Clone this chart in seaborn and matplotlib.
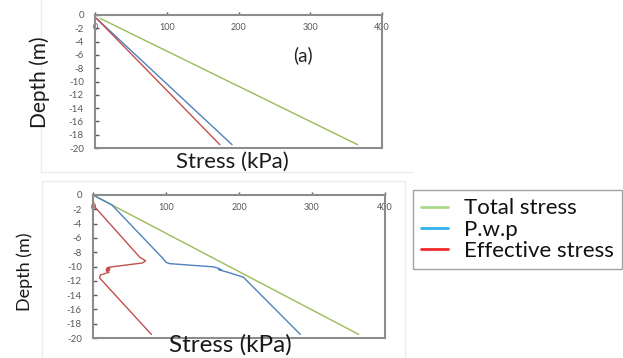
import matplotlib
matplotlib.use("Agg")
import matplotlib.pyplot as plt
import seaborn as sns
import pandas as pd
from matplotlib.lines import Line2D
from matplotlib.patches import Rectangle

# ---------------- data ----------------
# panel (a)
a_total_x = [7, 366]
a_total_y = [-0.5, -19.5]
a_pwp_x = [2, 191]
a_pwp_y = [-0.5, -19.5]
a_eff_x = [2, 174]
a_eff_y = [-0.5, -19.5]

# panel (b)
b_total_x = [0, 364]
b_total_y = [0, -19.5]
b_pwp_x = [0, 26, 96, 100, 105, 165, 172, 176, 172, 179, 186, 206, 284]
b_pwp_y = [0, -1.4, -8.9, -9.4, -9.6, -10.05, -10.25, -10.5, -10.4, -10.65, -10.85, -11.5, -19.5]
b_eff_x = [0, 1, 64, 72, 68, 22, 19, 23, 18, 23, 18, 22, 10, 9, 80]
b_eff_y = [0, -1.5, -8.7, -9.2, -9.5, -10.1, -10.2, -10.3, -10.4, -10.5, -10.6, -10.8, -11.2, -11.6, -19.5]

x_ticks = [0, 100, 200, 300, 400]
y_ticks = list(range(-20, 1, 2))
legend_labels = ["Total stress", "P.w.p", "Effective stress"]

# ---------------- style ----------------
sns.set_style("white")
plt.rcParams["font.family"] = ["Lato", "DejaVu Sans"]
plt.rcParams["axes.unicode_minus"] = False

C_TOT = "#9BBB59"
C_PWP = "#4F81BD"
C_EFF = "#C0504D"
LEG_COLORS = ["#A9DA8E", "#2FB2EC", "#F0282A"]
SPINE = "#8C8C8C"
TICKC = "#595959"

W, H = 623, 358
fig = plt.figure(figsize=(W / 100, H / 100), dpi=100)


def px_axes(l, t, r, b):
    return fig.add_axes([l / W, 1 - b / H, (r - l) / W, (b - t) / H])


def draw(ax, series):
    for xs, ys, c in series:
        df = pd.DataFrame({"x": xs, "y": ys})
        sns.lineplot(data=df, x="x", y="y", sort=False, estimator=None,
                     color=c, lw=1.0, ax=ax)
    ax.set_xlim(0, 400)
    ax.set_ylim(-20, 0)
    ax.set_xticks(x_ticks)
    ax.set_yticks(y_ticks)
    ax.set_xticklabels([str(v) for v in x_ticks])
    ax.set_yticklabels([str(v) for v in y_ticks])
    ax.xaxis.tick_top()
    ax.tick_params(axis="x", top=True, bottom=False, labeltop=True,
                   labelbottom=False, direction="out", length=2,
                   pad=-14, labelsize=6.5, colors=TICKC, width=1)
    ax.tick_params(axis="y", left=True, direction="in", length=3,
                   pad=8, labelsize=7, colors=TICKC, width=1)
    for s in ax.spines.values():
        s.set_color(SPINE)
        s.set_linewidth(1.5)
        s.set_visible(True)
    ax.set_xlabel("")
    ax.set_ylabel("")


# faint frames of the pasted pictures
fig.add_artist(Line2D([41 / W, 41 / W], [1, 1 - 172 / H], color="#ececec", lw=1))
fig.add_artist(Line2D([41 / W, 412 / W], [1 - 172 / H, 1 - 172 / H], color="#ececec", lw=1))
fig.add_artist(Rectangle((42 / W, 0), (405 - 42) / W, (H - 181) / H,
                         fill=False, edgecolor="#ececec", lw=1,
                         transform=fig.transFigure))

# panel (a)
ax1 = px_axes(95, 15, 382, 148)
draw(ax1, [(a_total_x, a_total_y, C_TOT), (a_pwp_x, a_pwp_y, C_PWP), (a_eff_x, a_eff_y, C_EFF)])
ax1.text(290, -6.1, "(a)", fontsize=13.5, ha="center", va="center", color="#222222")
fig.text(40 / W, 1 - 82 / H, "Depth (m)", rotation=90, fontsize=15,
         ha="center", va="center", color="#1a1a1a")
fig.text(232 / W, 1 - 162 / H, "Stress (kPa)", fontsize=16,
         ha="center", va="center", color="#1a1a1a")

# panel (b)
ax2 = px_axes(93, 195, 385, 338)
draw(ax2, [(b_total_x, b_total_y, C_TOT), (b_pwp_x, b_pwp_y, C_PWP), (b_eff_x, b_eff_y, C_EFF)])
fig.text(25 / W, 1 - 272 / H, "Depth (m)", rotation=90, fontsize=13,
         ha="center", va="center", color="#1a1a1a")
fig.text(230 / W, 1 - 345 / H, "Stress (kPa)", fontsize=17.5,
         ha="center", va="center", color="#1a1a1a")

# legend
handles = [Line2D([], [], color=c, lw=2) for c in LEG_COLORS]
leg = fig.legend(handles, legend_labels, loc="upper left",
                 bbox_to_anchor=(413 / W, 1 - 190 / H), fontsize=16,
                 frameon=True, fancybox=False, handlelength=1.2,
                 handletextpad=0.7, labelspacing=0.05, borderpad=0.38,
                 borderaxespad=0)
leg.get_frame().set_edgecolor("#8C8C8C")
leg.get_frame().set_linewidth(1.0)
for t in leg.get_texts():
    t.set_color("#111111")

fig.savefig("out.png", dpi=100)
